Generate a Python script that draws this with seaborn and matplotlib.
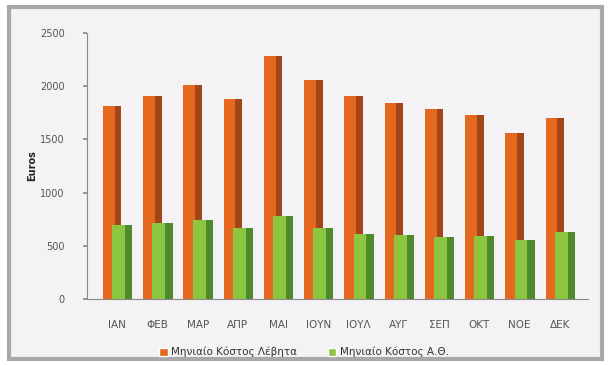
import matplotlib
matplotlib.use("Agg")
import matplotlib.pyplot as plt
from matplotlib.patches import Rectangle
import seaborn as sns
import pandas as pd

months = ["ΙΑΝ", "ΦΕΒ", "ΜΑΡ", "ΑΠΡ", "ΜΑΙ", "ΙΟΥΝ", "ΙΟΥΛ", "ΑΥΓ", "ΣΕΠ", "ΟΚΤ", "ΝΟΕ", "ΔΕΚ"]
boiler_cost = [1810, 1910, 2010, 1880, 2280, 2060, 1905, 1840, 1790, 1730, 1560, 1700]
heatpump_cost = [700, 715, 745, 670, 780, 670, 610, 600, 585, 590, 555, 630]
series_names = ["Μηνιαίο Κόστος Λέβητα", "Μηνιαίο Κόστος Α.Θ."]
y_ticks = [0, 500, 1000, 1500, 2000, 2500]

face = {series_names[0]: "#E4691F", series_names[1]: "#8CC640"}
side = {series_names[0]: "#A2461A", series_names[1]: "#4F8B2C"}

df = pd.DataFrame({
    "month": months * 2,
    "cost": boiler_cost + heatpump_cost,
    "series": [series_names[0]] * len(months) + [series_names[1]] * len(months),
})

sns.set_theme(style="white")
plt.rcParams["font.family"] = ["DejaVu Sans"]

fig = plt.figure(figsize=(6.08, 3.65), dpi=100)
fig.patch.set_facecolor("white")
frame = Rectangle((9 / 608, 6 / 365), 593 / 608, 352 / 365, transform=fig.transFigure,
                  facecolor="#F4F2F4", edgecolor="#A9A7AA", linewidth=3, zorder=-5)
fig.patches.append(frame)

ax = fig.add_axes([87 / 608, 1 - 299 / 365, (588 - 87) / 608, (299 - 33) / 365])
ax.set_zorder(2)
ax.set_facecolor("none")

sns.barplot(data=df, x="month", y="cost", hue="series", palette=face, order=months,
            hue_order=series_names, dodge=True, width=0.5, saturation=1, ax=ax,
            legend=False, errorbar=None)

n = len(months)
bars = list(ax.patches)[: 2 * n]
for i, p in enumerate(bars):
    name = series_names[i // n]
    z = 3 if i >= n else 2
    cx = p.get_x() + p.get_width() / 2
    w = 0.46 if i < n else 0.5
    p.set_x(cx - w / 2)
    p.set_width(w)
    p.set_edgecolor("none")
    p.set_zorder(z)
    h = p.get_height()
    ax.add_patch(Rectangle((cx + w / 2 - w * 0.36, 0), w * 0.36, h,
                           facecolor=side[name], edgecolor="none", zorder=z + 0.01))

ax.set_xlim(-0.75, n - 1 + 0.7)
ax.set_ylim(0, 2500)
ax.set_yticks(y_ticks)
ax.set_yticklabels([str(t) for t in y_ticks], fontsize=7, color="#555555")
ax.tick_params(axis="y", length=3, color="#8A8A8A", pad=13, left=True)
ax.tick_params(axis="x", length=0, pad=15, labelsize=7.5, labelcolor="#555555")
ax.set_xlabel("")
ax.set_ylabel("Euros", fontsize=7, fontweight="bold", color="#222222", labelpad=2)
for s in ["top", "right"]:
    ax.spines[s].set_visible(False)
for s in ["left", "bottom"]:
    ax.spines[s].set_color("#8A8A8A")
    ax.spines[s].set_linewidth(0.8)

handles = [Rectangle((0, 0), 1, 1, facecolor=face[s]) for s in series_names]
leg = fig.legend(handles, series_names, loc="center", bbox_to_anchor=(0.5, 1 - 352 / 365), ncol=2,
                 frameon=False, fontsize=7.5, handlelength=0.8, handleheight=0.8, columnspacing=3,
                 handletextpad=0.3, labelcolor="#333333")
leg.set_zorder(5)

fig.savefig("out.png", dpi=100)
